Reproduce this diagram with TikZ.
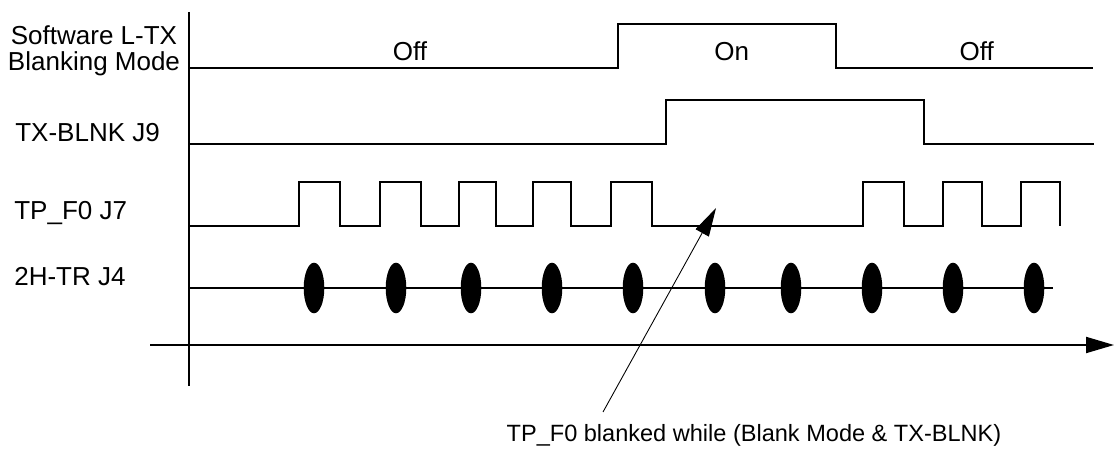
\documentclass[tikz,border=0pt]{standalone}
\usepackage{fontspec}
\setmainfont{Liberation Sans}
\usetikzlibrary{arrows.meta}
\begin{document}
\begin{tikzpicture}[x=0.02cm,y=-0.02cm,
  signal/.style={draw,line width=1.1pt},
  pulse/.style={fill,black},
  lbl/.style={anchor=base west,inner sep=0pt,font=\fontsize{14.8}{17}\selectfont},
  state/.style={anchor=base,inner sep=0pt,font=\fontsize{14.8}{17}\selectfont}]
\fontsize{13.4}{16}\selectfont
\useasboundingbox (0,0) rectangle (1115,449);

% signal names
\node[state] (sw1) at (94,45) {Software L-TX};
\node[state] (sw2) at (94,71) {Blanking Mode};
\node[lbl] (blnk) at (15,141.7) {TX-BLNK J9};
\node[lbl] (tpf) at (14,219.3) {TP\_F0 J7};
\node[lbl] (htr) at (14,285.5) {2H-TR J4};

% axes
\path[signal] (189,12) -- (189,386);
\path[signal,-{Triangle[length=0.56cm,width=0.32cm]}] (150,345) -- (1114,345);

% blanking mode
\path[signal] (189,68) -| (618,24) -| (836,68) -- (1093,68);
\node[state] (off1) at (410,61) {Off};
\node[state] (on) at (731.7,61) {On};
\node[state] (off2) at (976.7,61) {Off};

% TX-BLNK
\path[signal] (189,144) -| (666,100) -| (924,144) -- (1094,144);

% TP_F0
\path[signal] (189,226) -| (299,182) -| (340,226) -| (380,182) -| (421,226)
  -| (459,182) -| (496,226) -| (533,182) -| (571,226) -| (611,182) -| (652,226)
  -| (863,182) -| (904,226) -| (943,182) -| (982,226) -| (1021,182) -| (1060,226);

% 2H-TR
\path[draw,line width=0.6pt] (189,288) -- (414,288);
\path[signal] (414,288) -- (1053,288);
\path[pulse] (314,288) ellipse [x radius=0.206cm, y radius=0.506cm];
\path[pulse] (396,288) ellipse [x radius=0.206cm, y radius=0.506cm];
\path[pulse] (471,288) ellipse [x radius=0.206cm, y radius=0.506cm];
\path[pulse] (552,288) ellipse [x radius=0.206cm, y radius=0.506cm];
\path[pulse] (633,288) ellipse [x radius=0.206cm, y radius=0.506cm];
\path[pulse] (715,288) ellipse [x radius=0.206cm, y radius=0.506cm];
\path[pulse] (791,288) ellipse [x radius=0.206cm, y radius=0.506cm];
\path[pulse] (872,288) ellipse [x radius=0.206cm, y radius=0.506cm];
\path[pulse] (953,288) ellipse [x radius=0.206cm, y radius=0.506cm];
\path[pulse] (1034,288) ellipse [x radius=0.206cm, y radius=0.506cm];

% note
\node[anchor=base,inner sep=0pt] (note) at (754,441.7) {TP\_F0 blanked while (Blank Mode \& TX-BLNK)};
\coordinate (notetop) at (603,412);
\coordinate (tip) at (716,208);
\path[draw,line width=0.5pt,-{Triangle[length=0.57cm,width=0.3cm]}] (notetop) -- (tip);
\end{tikzpicture}
\end{document}
